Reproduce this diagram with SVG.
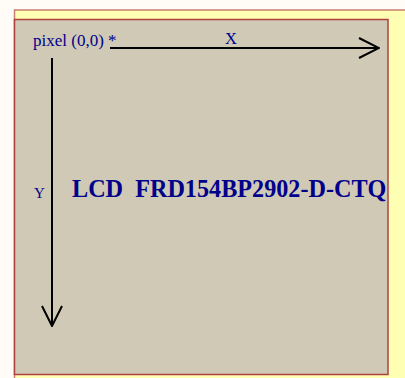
<svg xmlns="http://www.w3.org/2000/svg" width="405" height="378" viewBox="0 0 405 378">
<style>
.lbl{font-family:"Liberation Serif","Times New Roman",serif;fill:#00008b;}
.axis{stroke:#000;stroke-width:2;fill:none;}
.title{font-weight:bold;white-space:pre;}
</style>
<defs>
<marker id="arr" viewBox="0 0 22 22" refX="21" refY="11" markerWidth="22" markerHeight="22" markerUnits="userSpaceOnUse" orient="auto">
<path d="M1,1 L21,11 L1,21" fill="none" stroke="#000" stroke-width="2"/>
</marker>
</defs>
<rect x="0" y="0" width="405" height="378" fill="#fffcf7"/>
<g id="frame">
<rect x="14.5" y="10" width="400" height="380" fill="#ffffb4" stroke="#c88070" stroke-width="1.5"/>
</g>
<g id="lcd">
<rect x="14.5" y="19.5" width="373.5" height="355" fill="#d0c9b5" stroke="#b04040" stroke-width="1.5"/>
<text class="lbl title" x="72" y="197" font-size="24.2">LCD  FRD154BP2902-D-CTQ</text>
</g>
<g id="connectors">
<line class="axis" x1="110" y1="48" x2="379" y2="48" marker-end="url(#arr)"/>
<line class="axis" x1="52" y1="58" x2="52" y2="326" marker-end="url(#arr)"/>
</g>
<g id="labels">
<text class="lbl" x="33" y="46" font-size="17">pixel (0,0) *</text>
<text class="lbl" x="231" y="44" font-size="16.5" text-anchor="middle">X</text>
<text class="lbl" x="39.5" y="198" font-size="15" text-anchor="middle">Y</text>
</g>
</svg>
